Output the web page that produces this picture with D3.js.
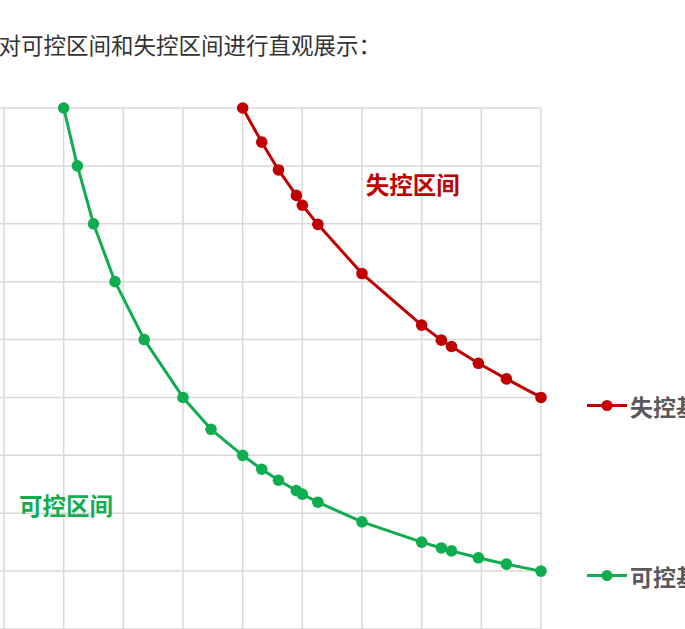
<!DOCTYPE html>
<html>
<head>
<meta charset="utf-8">
<script src="https://cdn.jsdelivr.net/npm/d3@7"></script>
<style>
  html, body { margin: 0; padding: 0; background: #fff; overflow: hidden; }
  svg { display: block; font-family: "Noto Sans CJK SC", "Noto Sans", sans-serif; }
</style>
</head>
<body>
<div id="chart"></div>
<script>

// data
var titleText = "对可控区间和失控区间进行直观展示：";

var gridTicks = [0, 1, 2, 3, 4, 5, 6, 7, 8, 9];

var controlX = [1.0, 1.23, 1.5, 1.86, 2.35, 3.0, 3.47, 4.0, 4.32, 4.6, 4.9, 5.0, 5.26, 6.0, 7.0, 7.33, 7.5, 7.95, 8.42, 9.0];
var controlY = [9.0, 8.0, 7.0, 6.0, 5.0, 4.0, 3.45, 3.0, 2.76, 2.57, 2.39, 2.33, 2.19, 1.85, 1.5, 1.4, 1.35, 1.23, 1.12, 1.0];

var lostX = [4.0, 4.32, 4.6, 4.9, 5.0, 5.26, 6.0, 7.0, 7.33, 7.5, 7.95, 8.42, 9.0];
var lostY = [9.0, 8.41, 7.93, 7.49, 7.32, 6.99, 6.14, 5.25, 4.99, 4.88, 4.59, 4.32, 4.0];

var seriesNames = ["失控基线", "可控基线"];
var areaLabels = ["失控区间", "可控区间"];
var areaLabelX = [6.85, 1.04];
var areaLabelY = [7.69, 2.15];

var red = "#c00000", green = "#10ad50";

var width = 685, height = 629;

var svg = d3.select("#chart")
  .append("svg")
    .attr("width", width)
    .attr("height", height);

// title (cut at the left like the screenshot)
svg.append("text")
    .attr("x", -1.5)
    .attr("y", 54)
    .attr("font-size", 22.5)
    .attr("fill", "#333")
    .text(titleText);

var x = d3.scaleLinear()
    .domain([0, 9])
    .range([4, 541]);

var y = d3.scaleLinear()
    .domain([0, 9])
    .range([629, 108]);

// grid
var grid = svg.append("g")
    .attr("stroke", "#d9d9d9")
    .attr("stroke-width", 1.5);

grid.selectAll("line.v")
  .data(gridTicks)
  .enter().append("line")
    .attr("x1", function(d) { return x(d) })
    .attr("x2", function(d) { return x(d) })
    .attr("y1", y(0))
    .attr("y2", y(9));

grid.selectAll("line.h")
  .data(gridTicks)
  .enter().append("line")
    .attr("x1", x(-0.2))
    .attr("x2", x(9))
    .attr("y1", function(d) { return y(d) })
    .attr("y2", function(d) { return y(d) });

// the two series
var series = [
  { name: seriesNames[0], color: red,   pts: d3.zip(lostX, lostY),       legendY: 405.5 },
  { name: seriesNames[1], color: green, pts: d3.zip(controlX, controlY), legendY: 575.5 }
];

var line = d3.line()
    .x(function(d) { return x(d[0]) })
    .y(function(d) { return y(d[1]) });

series.forEach(function(s) {
  svg.append("path")
      .datum(s.pts)
      .attr("fill", "none")
      .attr("stroke", s.color)
      .attr("stroke-width", 3)
      .attr("stroke-linejoin", "round")
      .attr("d", line);

  svg.append("g")
    .selectAll("circle")
    .data(s.pts)
    .enter().append("circle")
      .attr("cx", function(d) { return x(d[0]) })
      .attr("cy", function(d) { return y(d[1]) })
      .attr("r", 5.8)
      .attr("fill", s.color);
});

// labels inside the plot
areaLabels.forEach(function(t, i) {
  svg.append("text")
      .attr("x", x(areaLabelX[i]))
      .attr("y", y(areaLabelY[i]))
      .attr("text-anchor", "middle")
      .attr("dominant-baseline", "central")
      .attr("font-size", 23.5)
      .attr("font-weight", "bold")
      .attr("fill", i === 0 ? red : green)
      .text(t);
});

// legend on the right, cut by the window edge as in the screenshot
series.forEach(function(s) {
  var ly = s.legendY;
  var g = svg.append("g");
  g.append("line")
      .attr("x1", 587).attr("x2", 627)
      .attr("y1", ly).attr("y2", ly)
      .attr("stroke", s.color)
      .attr("stroke-width", 3);
  g.append("circle")
      .attr("cx", 607).attr("cy", ly)
      .attr("r", 5.5)
      .attr("fill", s.color);
  g.append("text")
      .attr("x", 630)
      .attr("y", ly)
      .attr("dominant-baseline", "central")
      .attr("font-size", 23)
      .attr("font-weight", "bold")
      .attr("fill", "#595959")
      .text(s.name);
});

</script>
</body>
</html>
